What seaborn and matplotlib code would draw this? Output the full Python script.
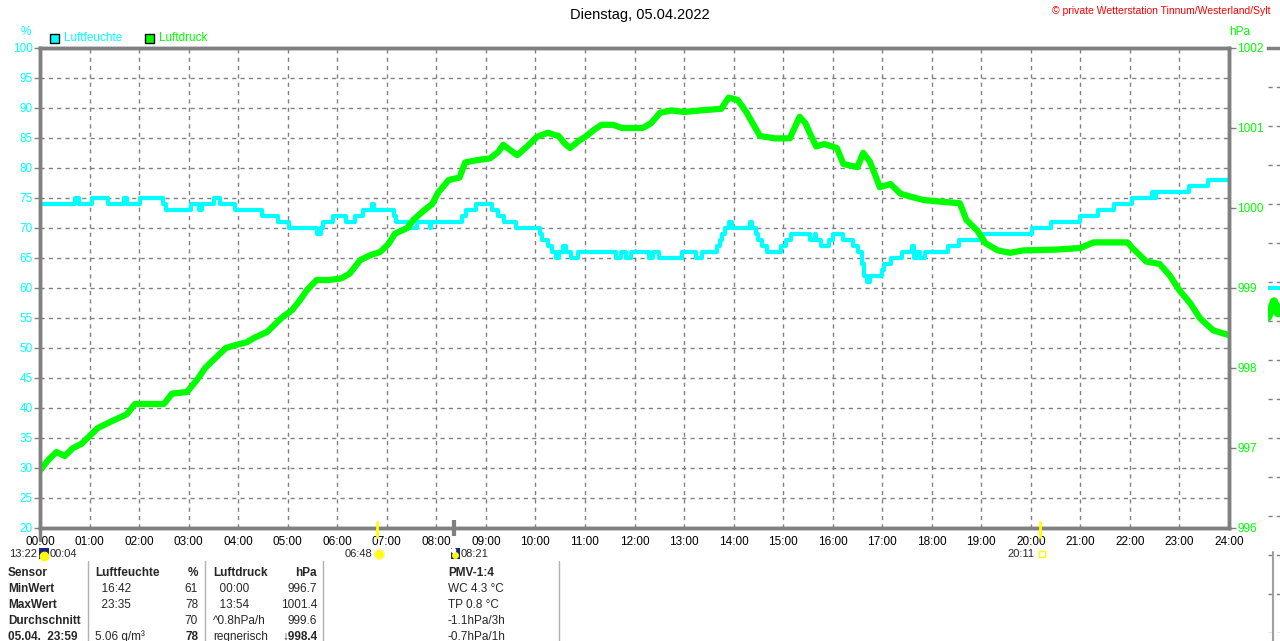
import numpy as np
import pandas as pd
import matplotlib
matplotlib.use("Agg")
import matplotlib.pyplot as plt
import seaborn as sns
from matplotlib.lines import Line2D
from matplotlib.patches import Rectangle

# ---------------- data ----------------
hum_times = ["00:00","00:42","00:47","01:03","01:22","01:42","01:45","02:01","02:29","02:33",
             "03:03","03:13","03:16","03:31","03:38","03:56","04:29","04:48","05:02","05:35",
             "05:40","05:43","05:55","06:11","06:21","06:31","06:42","06:45","07:09","07:11",
             "07:27","07:36","07:52","07:54","08:31","08:36","08:48","09:08","09:15","09:22",
             "09:37","10:05","10:08","10:15","10:20","10:25","10:28","10:34","10:37","10:43",
             "10:52","11:38","11:44","11:50","11:56","12:18","12:22","12:30","12:57","13:14",
             "13:22","13:40","13:43","13:46","13:50","13:55","13:58","14:20","14:22","14:27",
             "14:30","14:34","14:40","14:58","15:04","15:09","15:33","15:38","15:40","15:46",
             "15:55","16:01","16:12","16:25","16:31","16:35","16:38","16:42","16:45","17:00",
             "17:02","17:11","17:24","17:36","17:38","17:42","17:46","17:52","18:20","18:33",
             "19:01","20:01","20:24","20:59","21:21","21:41","22:02","22:27","22:29","22:31",
             "23:12","23:35","24:00"]
hum_vals = [74,75,74,75,74,75,74,75,74,73,
            74,73,74,75,74,73,72,71,70,69,
            70,71,72,71,72,73,74,73,72,71,
            70,71,70,71,72,73,74,73,72,71,
            70,69,68,67,66,65,66,67,66,65,
            66,65,66,65,66,65,66,65,66,65,
            66,67,68,69,70,71,70,71,70,69,
            68,67,66,67,68,69,68,69,68,67,
            68,69,68,67,66,64,62,61,62,63,
            64,65,66,67,65,66,65,66,67,68,
            69,70,71,72,73,74,75,76,75,76,
            77,78,78]

press_times = ["00:00","00:10","00:20","00:30","00:40","00:50","01:00","01:10","01:20","01:30",
               "01:45","01:55","02:10","02:30","02:40","02:58","03:10","03:20","03:34","03:45",
               "03:58","04:10","04:20","04:35","04:45","04:54","05:05","05:15","05:23","05:35",
               "05:50","06:05","06:15","06:28","06:40","06:52","07:02","07:10","07:25","07:32",
               "07:45","07:55","08:02","08:15","08:28","08:35","08:50","09:05","09:15","09:21",
               "09:30","09:38","09:50","10:02","10:15","10:28","10:36","10:42","10:54","11:02",
               "11:10","11:20","11:34","11:45","12:10","12:20","12:31","12:45","13:00","13:20",
               "13:45","13:54","14:05","14:12","14:16","14:23","14:32","14:50","15:08","15:20",
               "15:27","15:33","15:40","15:50","16:05","16:13","16:30","16:37","16:45","16:52",
               "16:57","17:10","17:22","17:35","17:50","18:10","18:34","18:42","18:55","19:05",
               "19:20","19:35","19:51","20:30","21:00","21:16","21:57","22:03","22:20","22:36",
               "22:48","23:00","23:13","23:25","23:41","24:00"]
press_vals = [996.72,996.85,996.95,996.90,997.00,997.05,997.15,997.25,997.30,997.35,
              997.42,997.55,997.55,997.55,997.68,997.70,997.85,998.00,998.14,998.25,
              998.29,998.32,998.38,998.45,998.55,998.64,998.72,998.85,998.97,999.10,
              999.10,999.12,999.18,999.35,999.41,999.45,999.55,999.68,999.75,999.85,
              999.97,1000.05,1000.19,1000.35,1000.38,1000.57,1000.60,1000.62,1000.70,1000.79,
              1000.72,1000.66,1000.77,1000.89,1000.94,1000.90,1000.80,1000.75,1000.85,1000.90,
              1000.97,1001.04,1001.04,1001.00,1001.00,1001.06,1001.19,1001.22,1001.20,1001.22,
              1001.24,1001.38,1001.35,1001.25,1001.19,1001.06,1000.90,1000.87,1000.87,1001.14,
              1001.06,1000.92,1000.77,1000.80,1000.75,1000.55,1000.51,1000.69,1000.58,1000.40,
              1000.26,1000.30,1000.18,1000.14,1000.10,1000.08,1000.06,999.85,999.72,999.56,
              999.47,999.44,999.47,999.48,999.50,999.57,999.57,999.50,999.33,999.30,
              999.16,998.97,998.81,998.62,998.47,998.41]

x_tick_labels = [f"{h:02d}:00" for h in range(25)]
hum_ticks = list(range(20, 101, 5))
press_ticks = [996, 997, 998, 999, 1000, 1001, 1002]

# sun / moon events (label, time)
events = [("06:48", "sunrise"), ("08:21", "moonset"), ("20:11", "sunset")]

# side panel (partially visible neighbouring chart)
side_x = [0.0, 1.0]
side_cyan = [8.85, 8.85]
side_green_x = [0.0, 0.3, 0.5, 0.7, 1.0]
side_green = [8.1, 8.5, 8.2, 8.4, 8.3]

table_rows = [
    ("Sensor", "Luftfeuchte", "%", "Luftdruck", "hPa", "PMV-1:4"),
    ("MinWert", "  16:42", "61", "  00:00", "996.7", "WC 4.3 °C"),
    ("MaxWert", "  23:35", "78", "  13:54", "1001.4", "TP 0.8 °C"),
    ("Durchschnitt", "", "70", "^0.8hPa/h", "999.6", "-1.1hPa/3h"),
    ("05.04.  23:59", "5.06 g/m³", "78", "regnerisch", "↓998.4", "-0.7hPa/1h"),
]

def to_h(s):
    h, m = s.split(":")
    return int(h) + int(m) / 60.0

hum_df = pd.DataFrame({"t": [to_h(s) for s in hum_times], "v": hum_vals})
press_df = pd.DataFrame({"t": [to_h(s) for s in press_times], "v": press_vals})

# ---------------- figure ----------------
W, H = 1280, 641
sns.set_style("white")
plt.rcParams['font.family'] = ['Liberation Sans', 'DejaVu Sans']

CYAN = "#00FFFF"
GREEN = "#00FF00"
GRAY = "#808080"

fig = plt.figure(figsize=(12.8, 6.41), dpi=100)

def fx(x):
    return x / W

def fy(y):
    return 1 - y / H

L, R, T, B = 40, 1229, 48, 528
ax = fig.add_axes([fx(L), fy(B), (R - L) / W, (B - T) / H])

sns.lineplot(data=hum_df, x="t", y="v", ax=ax, color=CYAN, linewidth=3,
             drawstyle="steps-post", errorbar=None, estimator=None)
ax.set_xlim(0, 24)
ax.set_ylim(20, 100)
ax.set_xticks(range(25))
ax.set_xticklabels(x_tick_labels)
ax.set_yticks(hum_ticks)
ax.set_yticklabels([str(v) for v in hum_ticks])
ax.set_xlabel("")
ax.set_ylabel("")
ax.grid(True, color=GRAY, linestyle=(0, (3, 3)), linewidth=1)
ax.tick_params(axis="x", colors=GRAY, labelcolor="black", length=4, width=1,
               labelsize=8.5, pad=2)
ax.tick_params(axis="y", colors=GRAY, labelcolor=CYAN, length=4, width=1,
               labelsize=8.5, pad=1)
for s in ax.spines.values():
    s.set_color(GRAY)
    s.set_linewidth(2.5)

ax2 = ax.twinx()
sns.lineplot(data=press_df, x="t", y="v", ax=ax2, color=GREEN, linewidth=4.5,
             errorbar=None, estimator=None)
ax2.set_ylim(996, 1002)
ax2.set_yticks(press_ticks)
ax2.set_yticklabels([str(v) for v in press_ticks])
ax2.set_ylabel("")
ax2.tick_params(axis="y", colors=GRAY, labelcolor=GREEN, length=5, width=1,
                labelsize=8.5, pad=1)
for s in ax2.spines.values():
    s.set_color(GRAY)
    s.set_linewidth(2.5)

# ---------------- texts ----------------
fig.text(0.5, fy(15), "Dienstag, 05.04.2022", ha="center", va="center", fontsize=10.5, color="black")
fig.text(fx(1271), fy(11), "© private Wetterstation Tinnum/Westerland/Sylt", ha="right", va="center",
         fontsize=7.5, color="red")
fig.text(fx(26), fy(32), "%", ha="center", va="center", fontsize=8.5, color=CYAN)
fig.text(fx(1240), fy(32), "hPa", ha="center", va="center", fontsize=8.5, color=GREEN)

# legend
for x0, col, lab in [(50, CYAN, "Luftfeuchte"), (145, GREEN, "Luftdruck")]:
    fig.patches.append(Rectangle((fx(x0), fy(43)), 9 / W, 9 / H, transform=fig.transFigure,
                                 facecolor=col, edgecolor="black", linewidth=1))
    fig.text(fx(x0 + 14), fy(38), lab, ha="left", va="center", fontsize=8.5, color=col)

# left spine extension below axis
fig.lines.append(Line2D([fx(L), fx(L)], [fy(528), fy(540)], transform=fig.transFigure,
                        color=GRAY, linewidth=2.5))

def tx(s):
    return L + to_h(s) / 24 * (R - L)

def dot(xp, yp, col, size, ec=None, marker="o"):
    fig.lines.append(Line2D([fx(xp)], [fy(yp)], transform=fig.transFigure, linestyle="none",
                            marker=marker, markersize=size, markerfacecolor=col,
                            markeredgecolor=ec or col, markeredgewidth=1))

EV_Y = 554
EV_FS = 8
for lab, kind in events:
    xp = tx(lab)
    if kind == "sunrise":
        fig.lines.append(Line2D([fx(xp), fx(xp)], [fy(522), fy(537)], transform=fig.transFigure,
                                color="#FFFF00", linewidth=2))
        fig.text(fx(xp - 5), fy(EV_Y), lab, ha="right", va="center", fontsize=EV_FS)
        dot(xp + 2, 554, "#FFFF00", 7, ec="#FFF3A0")
    elif kind == "moonset":
        fig.lines.append(Line2D([fx(xp), fx(xp)], [fy(520), fy(536)], transform=fig.transFigure,
                                color=GRAY, linewidth=3, solid_capstyle="butt"))
        fig.patches.append(Rectangle((fx(xp - 3), fy(559)), 9 / W, 11 / H, transform=fig.transFigure,
                                     facecolor="#1A237E", edgecolor="none"))
        dot(xp + 1.5, 555, "#FFFF00", 4)
        dot(xp - 1, 550, "white", 3)
        fig.text(fx(xp + 7), fy(EV_Y), lab, ha="left", va="center", fontsize=EV_FS)
    else:
        fig.lines.append(Line2D([fx(xp), fx(xp)], [fy(522), fy(537)], transform=fig.transFigure,
                                color="#FFFF00", linewidth=2))
        fig.text(fx(xp - 5), fy(EV_Y), lab, ha="right", va="center", fontsize=EV_FS)
        dot(xp + 2, 554, "white", 5, ec="#FFFF00", marker="s")

# moon rise at left
fig.text(fx(37), fy(EV_Y), "13:22", ha="right", va="center", fontsize=EV_FS)
fig.patches.append(Rectangle((fx(39), fy(559)), 10 / W, 11 / H, transform=fig.transFigure,
                             facecolor="#1A237E", edgecolor="none"))
dot(44, 556, "#FFFF00", 6)
fig.text(fx(50), fy(EV_Y), "00:04", ha="left", va="center", fontsize=EV_FS)

# ---------------- table ----------------
for xs in [88, 205, 323, 559]:
    fig.lines.append(Line2D([fx(xs), fx(xs)], [fy(561), fy(641)], transform=fig.transFigure,
                            color="#B0B0B0", linewidth=1))
row_y = [573, 589, 605, 621, 637]
for i, (c1, c2, c3, c4, c5, c6) in enumerate(table_rows):
    y = fy(row_y[i])
    hdr = (i == 0)
    last = (i == len(table_rows) - 1)
    fig.text(fx(8), y, c1, ha="left", va="center", fontsize=8.5, fontweight="bold")
    fig.text(fx(95), y, c2, ha="left", va="center", fontsize=8.5,
             fontweight="bold" if hdr else "normal")
    fig.text(fx(198), y, c3, ha="right", va="center", fontsize=8.5,
             fontweight="bold" if (hdr or last) else "normal")
    fig.text(fx(213), y, c4, ha="left", va="center", fontsize=8.5,
             fontweight="bold" if hdr else "normal")
    fig.text(fx(317), y, c5, ha="right", va="center", fontsize=8.5,
             fontweight="bold" if (hdr or last) else "normal")
    fig.text(fx(448), y, c6, ha="left", va="center", fontsize=8.5,
             fontweight="bold" if hdr else "normal")

# ---------------- neighbouring chart (cut off at right edge) ----------------
ax3 = fig.add_axes([fx(1268), fy(633), 200 / W, 585 / H])
ax3.set_xlim(0, 10)
ax3.set_ylim(0, 15)
ax3.plot(side_x, side_cyan, color=CYAN, linewidth=3)
ax3.plot(side_green_x, side_green, color=GREEN, linewidth=6)
ax3.set_yticks(range(16))
ax3.set_xticks([])
ax3.tick_params(left=False, labelleft=False)
ax3.grid(True, axis="y", color=GRAY, linestyle=(0, (3, 3)), linewidth=1)
for k, s in ax3.spines.items():
    s.set_visible(k == "top")
    s.set_color(GRAY)
    s.set_linewidth(2.5)
fig.lines.append(Line2D([fx(1273), fx(1273)], [fy(552), fy(641)], transform=fig.transFigure,
                        color="#A0A0A0", linewidth=1.5))

fig.savefig("out.png", dpi=100)
